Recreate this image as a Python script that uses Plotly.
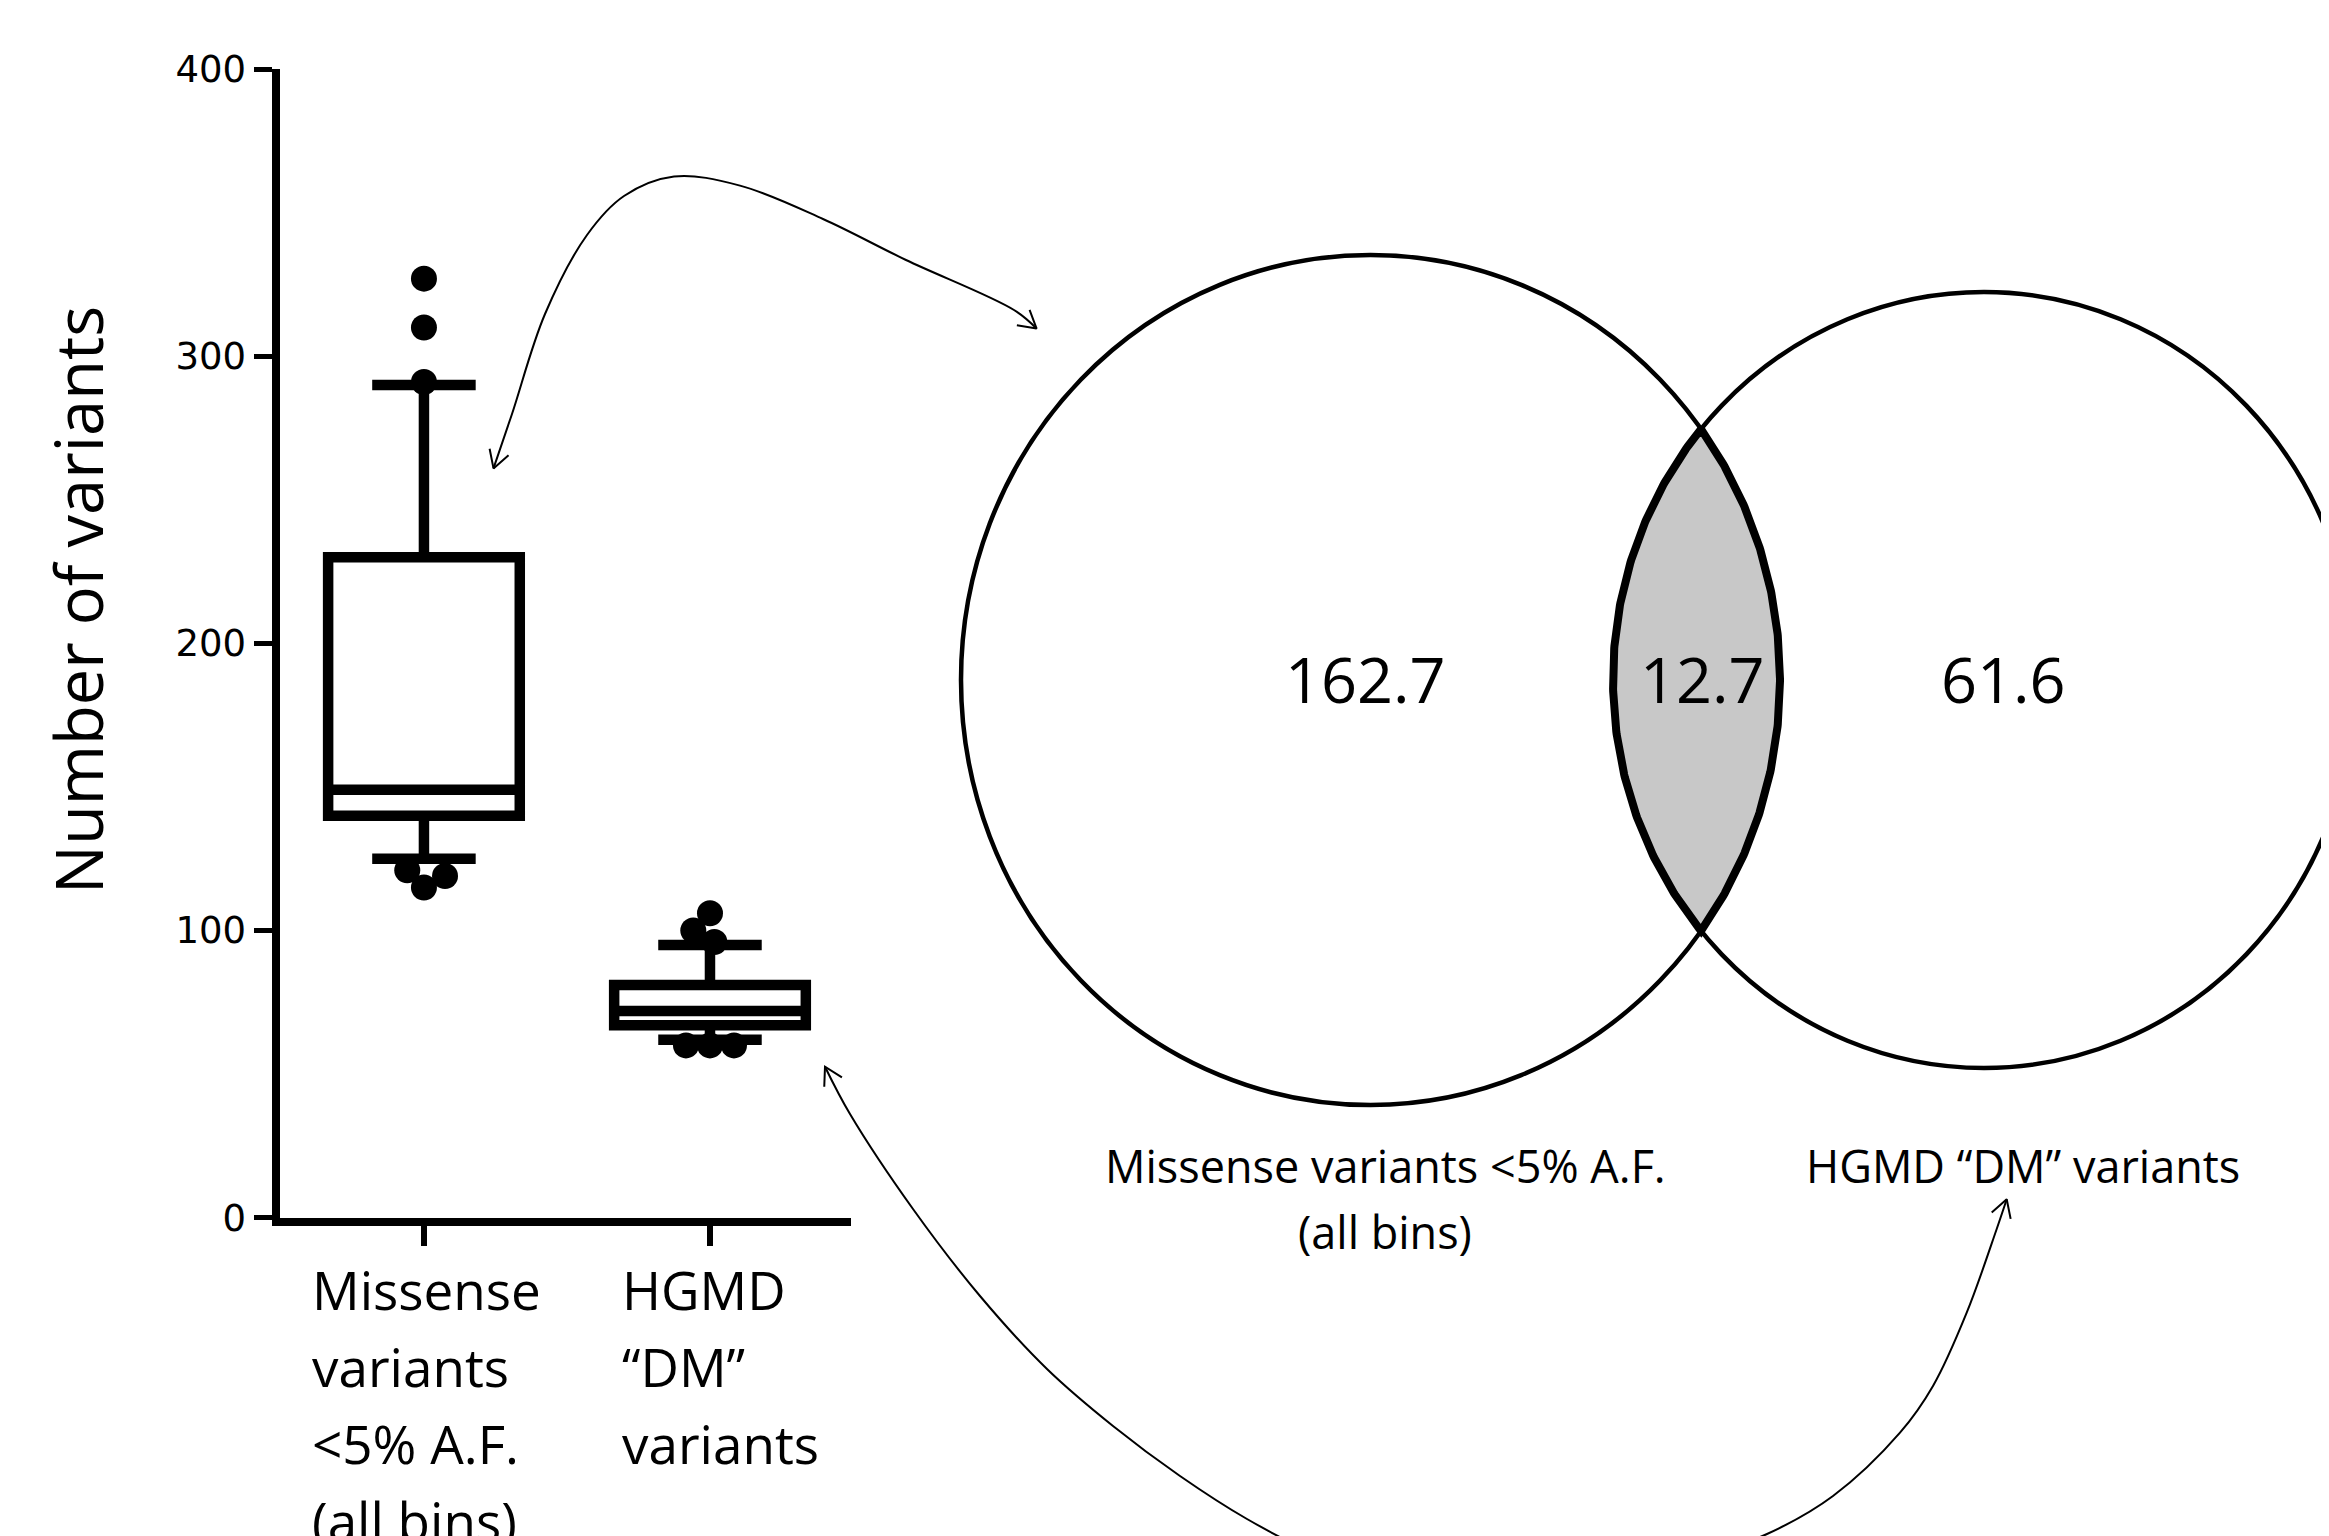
import numpy as np
import plotly.graph_objects as go

W, H = 2329, 1536
OFF = 8  # page body margin: figure origin sits 8 px in from the window corner

# ---------------- data ----------------
categories = ["Missense variants <5% A.F. (all bins)", "HGMD \u201cDM\u201d variants"]
category_label_lines = [["Missense", "variants", "<5% A.F.", "(all bins)"],
                        ["HGMD", "\u201cDM\u201d", "variants"]]
q1 = [140, 67]
median = [149, 72]
q3 = [230, 81]
whisker_low = [125, 62]
whisker_high = [290, 95]
outliers = [[327, 310, 291, 115, 121, 119],
            [106, 100, 96, 60, 60, 60]]
y_ticks = [0, 100, 200, 300, 400]
y_title = "Number of variants"

venn_values = [162.7, 12.7, 61.6]          # only A, A and B, only B
venn_set_labels = [["Missense variants <5% A.F.", "(all bins)"],
                   ["HGMD \u201cDM\u201d variants"]]

# ---------------- layout constants (window pixels) ----------------
X_DOM = ((279.5 - OFF) / W, (851 - OFF) / W)
Y_DOM = (1 - (1217.7 - OFF) / H, 1 - (69 - OFF) / H)
X_RANGE = (-0.505, 1.493)
Y_RANGE = (0, 400)
px_per_x = (X_DOM[1] - X_DOM[0]) * W / (X_RANGE[1] - X_RANGE[0])
px_per_y = (Y_DOM[1] - Y_DOM[0]) * H / (Y_RANGE[1] - Y_RANGE[0])

TEXT_FONT = "Open Sans"
BOX_W = 0.67
DOT = 26

fig = go.Figure()

# ---------------- box plot ----------------
for i in range(len(categories)):
    fig.add_trace(go.Box(
        x=[i], q1=[q1[i]], median=[median[i]], q3=[q3[i]],
        lowerfence=[whisker_low[i]], upperfence=[whisker_high[i]],
        width=BOX_W, whiskerwidth=0.54,
        line=dict(color="black", width=10.5), fillcolor="white",
        boxpoints=False, showlegend=False, hoverinfo="skip",
        name=categories[i], xaxis="x", yaxis="y"))


def dodge(values, diam):
    placed, offs = [], []
    for v in values:
        yp = v * px_per_y
        cands = [0.0]
        for xo, yo in placed:
            dy = abs(yp - yo)
            if dy < diam:
                dx = np.sqrt(diam ** 2 - dy ** 2)
                cands += [xo - dx, xo + dx]
        cands.sort(key=lambda c: (abs(round(c, 6)), c))
        chosen = cands[-1]
        for c in cands:
            if all((c - xo) ** 2 + (yp - yo) ** 2 >= diam ** 2 - 1e-6 for xo, yo in placed):
                chosen = c
                break
        placed.append((chosen, yp))
        offs.append(chosen)
    return offs


for i, vals in enumerate(outliers):
    offs = dodge(vals, DOT - 2)
    fig.add_trace(go.Scatter(
        x=[i + o / px_per_x for o in offs], y=vals, mode="markers",
        marker=dict(color="black", size=DOT, line=dict(width=0)),
        showlegend=False, hoverinfo="skip", xaxis="x", yaxis="y"))

# ---------------- Venn diagram (pixel overlay axis) ----------------
E1 = dict(cx=1370.5, cy=680, a=409.5, b=425)
E2 = dict(cx=1984, cy=680, a=371, b=388)


def x_right(e, dy):
    return e["cx"] + e["a"] * np.sqrt(np.clip(1 - (dy / e["b"]) ** 2, 0, None))


def x_left(e, dy):
    return e["cx"] - e["a"] * np.sqrt(np.clip(1 - (dy / e["b"]) ** 2, 0, None))


lo, hi = 0.0, min(E1["b"], E2["b"])
for _ in range(60):
    mid = (lo + hi) / 2
    if x_right(E1, mid) - x_left(E2, mid) > 0:
        lo = mid
    else:
        hi = mid
h = lo
dys = np.linspace(-h, h, 200)
lens_x = np.concatenate([x_right(E1, dys), x_left(E2, dys[::-1])])
lens_y = np.concatenate([E1["cy"] + dys, E2["cy"] + dys[::-1]])
fig.add_trace(go.Scatter(
    x=lens_x, y=lens_y, mode="lines", fill="toself", fillcolor="#c8c8c8",
    line=dict(color="black", width=8), showlegend=False, hoverinfo="skip",
    xaxis="x2", yaxis="y2"))

shapes = []
for e in (E1, E2):
    shapes.append(dict(type="circle", xref="x2", yref="y2",
                       x0=e["cx"] - e["a"], x1=e["cx"] + e["a"],
                       y0=e["cy"] - e["b"], y1=e["cy"] + e["b"],
                       line=dict(color="black", width=4.5), fillcolor="rgba(0,0,0,0)",
                       layer="above"))

# ---------------- connecting arrows ----------------
arrow_paths = [
    [(493.5, 468.4), (512, 414), (545, 314), (587, 235), (624, 196), (674, 176.5),
     (740, 185.6), (823, 219), (906, 260), (1014, 310), (1036.6, 328.6)],
    [(825, 1066.7), (850, 1114), (913, 1209), (980, 1296), (1047, 1369), (1113, 1426),
     (1180, 1476), (1247, 1519), (1320, 1556), (1420, 1590), (1530, 1598), (1650, 1575),
     (1767, 1534), (1833, 1496), (1900, 1432.7), (1933, 1386), (1966.7, 1312.7),
     (1996.7, 1229), (2006.7, 1199.3)],
]


def chevron(tip, prev, L=20, ang=30):
    d = np.array(tip) - np.array(prev)
    d = d / np.linalg.norm(d)
    back = -d
    out = []
    for s in (1, -1):
        t = np.radians(ang * s)
        r = np.array([back[0] * np.cos(t) - back[1] * np.sin(t),
                      back[0] * np.sin(t) + back[1] * np.cos(t)])
        out.append(tuple(np.array(tip) + L * r))
    return [out[0], tip, out[1]]


for pts in arrow_paths:
    xs, ys = zip(*pts)
    fig.add_trace(go.Scatter(x=xs, y=ys, mode="lines",
                             line=dict(color="black", width=2, shape="spline", smoothing=1.0),
                             showlegend=False, hoverinfo="skip", xaxis="x2", yaxis="y2"))
    for tip, prev in ((pts[0], pts[1]), (pts[-1], pts[-2])):
        c = chevron(tip, prev)
        cx, cy = zip(*c)
        fig.add_trace(go.Scatter(x=cx, y=cy, mode="lines",
                                 line=dict(color="black", width=2),
                                 showlegend=False, hoverinfo="skip", xaxis="x2", yaxis="y2"))

# ---------------- text ----------------
annotations = []
annotations.append(dict(text=y_title, x=78, y=600, xref="x2", yref="y2",
                        textangle=-90, showarrow=False, xanchor="center", yanchor="middle",
                        font=dict(family=TEXT_FONT, size=65, color="black")))
label_left_px = [310, 620]
for i, lines in enumerate(category_label_lines):
    for k, line in enumerate(lines):
        annotations.append(dict(text=line, x=label_left_px[i], y=1289 + 77 * k,
                                xref="x2", yref="y2", showarrow=False,
                                xanchor="left", yanchor="middle",
                                font=dict(family=TEXT_FONT, size=53, color="black")))

venn_value_pos = [(1365, 678), (1702, 678), (2003, 678)]
for v, (px, py) in zip(venn_values, venn_value_pos):
    annotations.append(dict(text=f"{v:.1f}", x=px, y=py, xref="x2", yref="y2",
                            showarrow=False, xanchor="center", yanchor="middle",
                            font=dict(family=TEXT_FONT, size=63, color="black")))

venn_label_x = [1385, 2023]
for i, lines in enumerate(venn_set_labels):
    for k, line in enumerate(lines):
        annotations.append(dict(text=line, x=venn_label_x[i], y=1165 + 66 * k,
                                xref="x2", yref="y2", showarrow=False,
                                xanchor="center", yanchor="middle",
                                font=dict(family=TEXT_FONT, size=45, color="black")))

fig.update_layout(
    template="none",
    width=W, height=H, margin=dict(l=0, r=0, t=0, b=0, pad=0, autoexpand=False),
    autosize=False,
    paper_bgcolor="white", plot_bgcolor="rgba(0,0,0,0)",
    showlegend=False,
    xaxis=dict(domain=list(X_DOM), range=list(X_RANGE), anchor="y", automargin=False,
               showline=True, linecolor="black", linewidth=8,
               tickmode="array", tickvals=list(range(len(categories))),
               showticklabels=False, ticks="outside", ticklen=20, tickwidth=6,
               tickcolor="black", showgrid=False, zeroline=False, fixedrange=True),
    yaxis=dict(domain=list(Y_DOM), range=list(Y_RANGE), anchor="x", automargin=False,
               showline=True, linecolor="black", linewidth=8,
               tickmode="array", tickvals=y_ticks, ticktext=[str(t) for t in y_ticks],
               ticks="outside", ticklen=18, tickwidth=5, tickcolor="black",
               tickfont=dict(family="DejaVu Sans", size=37, color="black"),
               showgrid=False, zeroline=False, fixedrange=True),
    xaxis2=dict(domain=[0, 1], range=[OFF, W + OFF], anchor="y2", visible=False,
                automargin=False, fixedrange=True),
    yaxis2=dict(domain=[0, 1], range=[H + OFF, OFF], anchor="x2", visible=False,
                automargin=False, fixedrange=True),
    shapes=shapes,
    annotations=annotations,
)

fig.write_html("out.html")
